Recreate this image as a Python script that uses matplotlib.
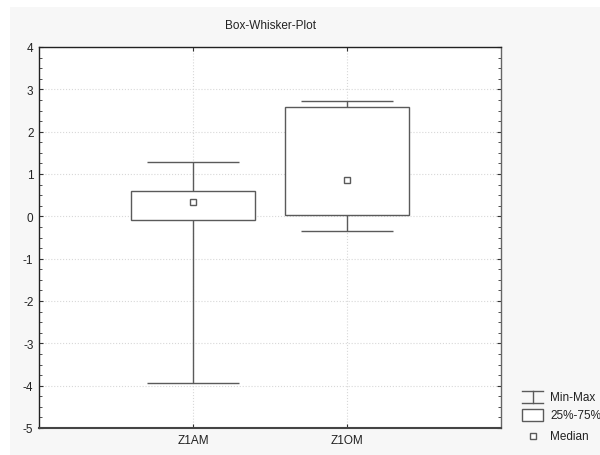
import matplotlib
matplotlib.use("Agg")
import matplotlib.pyplot as plt
from matplotlib.patches import Rectangle
from matplotlib.lines import Line2D
from matplotlib.ticker import AutoMinorLocator
import numpy as np

plt.rcParams['font.family'] = ['Liberation Sans', 'DejaVu Sans']
plt.rcParams['axes.unicode_minus'] = False

# values
categories = ["Z1AM", "Z1OM"]
mins = [-3.93, -0.34]
q1 = [-0.08, 0.02]
medians = [0.34, 0.87]
q3 = [0.59, 2.58]
maxs = [1.29, 2.72]

yticks = [-5, -4, -3, -2, -1, 0, 1, 2, 3, 4]
legend_labels = ["Min-Max", "25%-75%", "Median"]

col = "#5a5a5a"
W, H = 600, 456

fig = plt.figure(figsize=(W/100, H/100), dpi=100)
# light grey panel behind everything
fig.patches.append(Rectangle((10/W, 0), 1, 1 - 8/H, transform=fig.transFigure,
                             facecolor="#f7f7f7", edgecolor="none", zorder=-10))

ax = fig.add_axes([39/W, 1 - 429/H, 462/W, 381/H])
ax.set_facecolor("white")

pos = np.arange(1, len(categories) + 1)
box_w = 0.8
cap_w = 0.6
for i, x in enumerate(pos):
    # whiskers
    ax.vlines(x, mins[i], q1[i], color=col, lw=1.0, zorder=3)
    ax.vlines(x, q3[i], maxs[i], color=col, lw=1.0, zorder=3)
    ax.hlines([mins[i], maxs[i]], x - cap_w/2, x + cap_w/2, color=col, lw=1.0, zorder=3)
    # box
    ax.add_patch(Rectangle((x - box_w/2, q1[i]), box_w, q3[i] - q1[i],
                           facecolor="white", edgecolor=col, lw=1.0, zorder=3))
    # median
    ax.plot(x, medians[i], marker="s", ms=5, mfc="white", mec=col, mew=1.0, zorder=4)

ax.set_xlim(0, 3)
ax.set_ylim(-5, 4)
ax.set_xticks(pos)
ax.set_xticklabels(categories)
ax.set_yticks(yticks)
ax.yaxis.set_minor_locator(AutoMinorLocator(4))
ax.grid(True, color="#d8d8d8", ls=":", lw=0.8, zorder=0)
ax.set_axisbelow(True)
ax.tick_params(axis="both", which="both", direction="in", top=True, right=True,
               labelsize=8.5, color="#333333", labelcolor="#222222")
ax.tick_params(axis="both", which="major", length=3, pad=4)
ax.tick_params(axis="y", which="minor", length=2)
ax.tick_params(axis="x", which="minor", length=0)
for s in ["top", "left"]:
    ax.spines[s].set_linewidth(1.0)
    ax.spines[s].set_color("#222222")
ax.spines["bottom"].set_linewidth(1.5)
ax.spines["bottom"].set_color("#444444")
ax.spines["right"].set_linewidth(1.0)
ax.spines["right"].set_color("#666666")

ax.set_title("Box-Whisker-Plot", fontsize=8.5, pad=14, color="#222222")

# legend, drawn by hand in figure pixels
def fx(px):
    return px / W

def fy(py):
    return 1 - py / H

legend_rows = [398, 416, 437]
x0, x1 = 522, 543
xm = (x0 + x1) / 2
tr = fig.transFigure
# Min-Max symbol
y = legend_rows[0]
for yy in (y - 6, y + 6):
    fig.add_artist(Line2D([fx(x0), fx(x1)], [fy(yy), fy(yy)], color=col, lw=1.0, transform=tr))
fig.add_artist(Line2D([fx(xm), fx(xm)], [fy(y - 6), fy(y + 6)], color=col, lw=1.0, transform=tr))
# 25%-75% symbol
y = legend_rows[1]
fig.patches.append(Rectangle((fx(x0), fy(y + 6)), fx(x1) - fx(x0), fy(y - 6) - fy(y + 6),
                             transform=tr, facecolor="white", edgecolor=col, lw=1.0))
# Median symbol
y = legend_rows[2]
fig.add_artist(Line2D([fx(xm)], [fy(y)], ls="none", marker="s", ms=5, mfc="white",
                      mec=col, mew=1.0, transform=tr))
for lab, y in zip(legend_labels, legend_rows):
    fig.text(fx(550), fy(y), lab, fontsize=8.5, va="center", ha="left", color="#222222")

fig.savefig("out.png", dpi=100)
